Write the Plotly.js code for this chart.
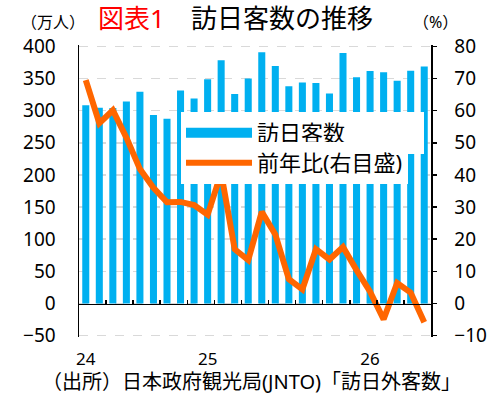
<!DOCTYPE html>
<html>
<head>
<meta charset="utf-8">
<script src="https://cdn.plot.ly/plotly-3.0.1.min.js"></script>
<style>html,body{margin:0;padding:0;background:#fff;}#chart{width:499px;height:403px;}</style>
</head>
<body>
<div id="chart"></div>
<script>
// Months (Mar 2024 – Apr 2026)
const months = ["2024-03","2024-04","2024-05","2024-06","2024-07","2024-08","2024-09","2024-10","2024-11","2024-12",
                "2025-01","2025-02","2025-03","2025-04","2025-05","2025-06","2025-07","2025-08","2025-09","2025-10","2025-11","2025-12",
                "2026-01","2026-02","2026-03","2026-04"];
// 訪日客数 (万人)
const visitors = [308.2,304.3,304.0,314.0,329.2,293.3,287.2,331.2,318.8,348.9,
                  378.2,325.8,349.8,390.8,369.3,337.8,343.7,342.8,326.7,389.6,351.8,361.7,
                  359.7,346.6,361.8,368.5];
// 前年比 (%)
const yoy = [69.5,56.1,60.1,51.6,41.8,36.0,31.5,31.6,30.6,27.6,
             40.6,16.9,13.5,28.5,21.5,7.6,4.4,16.9,13.7,17.6,10.4,3.7,
             -4.9,6.4,3.4,-5.8];
// Year tick labels
const yearTickMonths = ["2024-03","2024-12","2025-12"];
const yearTickText = ["24","25","26"];

const FONT = "Noto Sans, Noto Sans CJK JP, sans-serif";
const BLUE = "#00B0F0";
const ORANGE = "#FF6600";

// y ranges (left / right share zero and a 5:1 ratio); small pad so end gridlines are drawn
const yRange = [-52, 402];
const y2Range = [yRange[0]/5, yRange[1]/5];

// plot area in pixels
const M = {l:79, r:68, t:45, b:66};
const W = 499, H = 403;
const PW = W - M.l - M.r, PH = H - M.t - M.b;
const px2x = px => (px - M.l) / PW;
const px2y = py => (H - M.b - py) / PH;

const traces = [
  {type:"bar", x:months, y:visitors, marker:{color:BLUE}, showlegend:false, hoverinfo:"skip", name:"訪日客数"},
  {type:"scatter", mode:"lines", x:[null], y:[null], line:{color:BLUE, width:11}, name:"訪日客数　　　\u2004", hoverinfo:"skip", legend:"legend"},
  {type:"scatter", mode:"lines", x:months, y:yoy, yaxis:"y2", line:{color:ORANGE, width:6, shape:"linear"}, name:"前年比(右目盛)", hoverinfo:"skip", legend:"legend2"},
  {type:"scatter", mode:"none", x:months, y:months.map(()=>null), xaxis:"x2", showlegend:false, hoverinfo:"skip"}
];

const legendBase = {xanchor:"left", yanchor:"middle", bgcolor:"#fff", borderwidth:0,
          font:{size:22, family:FONT, color:"#000"}, itemwidth:66};

const layout = {
  width:W, height:H,
  margin:M,
  paper_bgcolor:"#fff", plot_bgcolor:"#fff",
  font:{family:FONT, color:"#000"},
  bargap:0.48,
  showlegend:true,
  legend:Object.assign({}, legendBase, {x:px2x(181), y:px2y(133)}),
  legend2:Object.assign({}, legendBase, {x:px2x(181), y:px2y(163)}),
  title:{text:'<span style="color:#FF0000">図表1</span>　訪日客数の推移', x:98/W, xanchor:"left", xref:"container",
         y:1-19/H, yanchor:"middle", yref:"container", font:{size:26, family:FONT, color:"#000"}},
  xaxis:{type:"category", range:[-0.5, months.length-0.5], showline:false, showgrid:false, zeroline:false,
         ticks:"", tickmode:"array", tickvals:yearTickMonths, ticktext:yearTickText,
         tickfont:{size:17, family:FONT, color:"#000"}, ticklabelstandoff:10, fixedrange:true},
  xaxis2:{type:"category", overlaying:"x", anchor:"free", position:(0-yRange[0])/(yRange[1]-yRange[0]), range:[-0.5, months.length-0.5],
          showline:true, linecolor:"#000", linewidth:1.5, ticks:"inside", ticklen:4, tickwidth:1.5, tickcolor:"#000",
          tickson:"boundaries", showticklabels:false, showgrid:false, zeroline:false},
  yaxis:{range:yRange, dtick:50, tick0:0, showline:true, linecolor:"#000", linewidth:1.5, ticks:"",
         showgrid:true, gridcolor:"#D9D9D9", griddash:"dash", gridwidth:1.5, zeroline:false,
         tickfont:{size:19, family:FONT, color:"#000"}, ticklabelstandoff:18},
  yaxis2:{range:y2Range, dtick:10, tick0:0, overlaying:"y", side:"right", showline:true, linecolor:"#000", linewidth:1.5,
          ticks:"outside", ticklen:4, tickwidth:1.5, tickcolor:"#000", showgrid:false, zeroline:false,
          tickfont:{size:19, family:FONT, color:"#000"}, ticklabelstandoff:14},
  annotations:[
    {text:"（万人）", xref:"paper", yref:"paper", x:px2x(53), y:px2y(21.5), xanchor:"center", yanchor:"middle",
     showarrow:false, font:{size:16, family:FONT, color:"#000"}},
    {text:"（%）", xref:"paper", yref:"paper", x:px2x(435), y:px2y(21.5), xanchor:"center", yanchor:"middle",
     showarrow:false, font:{size:16, family:FONT, color:"#000"}},
    {text:"（出所）日本政府観光局(JNTO)「訪日外客数」", xref:"paper", yref:"paper", x:px2x(251), y:px2y(381),
     xanchor:"center", yanchor:"middle", showarrow:false, font:{size:20, family:FONT, color:"#000"}}
  ]
};

Plotly.newPlot("chart", traces, layout, {displayModeBar:false, staticPlot:true});
</script>
</body>
</html>
